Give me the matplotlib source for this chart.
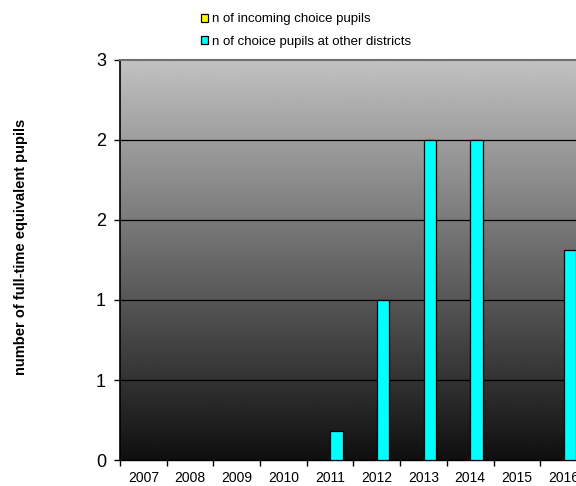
import numpy as np
import matplotlib
matplotlib.use("Agg")
import matplotlib.pyplot as plt
from matplotlib.patches import Patch

# ── DATA ─────────────────────────────────────────────────────────────────────
years = ["2007", "2008", "2009", "2010", "2011", "2012", "2013", "2014", "2015", "2016"]
incoming = [0, 0, 0, 0, 0, 0, 0, 0, 0, 0]
other_districts = [0, 0, 0, 0, 0.18, 1.0, 2.0, 2.0, 0, 1.31]
y_ticks = [0, 0.5, 1.0, 1.5, 2.0, 2.5]
y_tick_labels = ["0", "1", "1", "2", "2", "3"]   # Excel rounded them to integers

COLOR_IN = "#FFFF00"
COLOR_OUT = "#00FFFF"

plt.rcParams["font.family"] = ["Liberation Sans", "DejaVu Sans"]

fig = plt.figure(figsize=(5.76, 4.86), dpi=100, facecolor="white")
# plot area runs off the right edge, like the cropped original
ax = fig.add_axes([120 / 576, 26 / 486, 467 / 576, 400 / 486])

# gray-to-black gradient background
grad = np.linspace(0.06, 0.76, 256).reshape(-1, 1)
ax.imshow(grad, cmap="gray", vmin=0, vmax=1, origin="lower", aspect="auto",
          extent=[0, 1, 0, 1], transform=ax.transAxes, zorder=0)

x = np.arange(len(years))
w = 0.27
ax.bar(x - w / 2, incoming, width=w, color=COLOR_IN, edgecolor="black", linewidth=0, zorder=3)
ax.bar(x + w / 2, other_districts, width=w, color=COLOR_OUT, edgecolor="black", linewidth=0.9, zorder=3)

ax.set_xlim(-0.5, len(years) - 0.5)
ax.set_ylim(0, 2.5)

# gridlines
for yv in y_ticks[1:-1]:
    ax.axhline(yv, color="black", linewidth=0.9, zorder=1)

ax.set_yticks(y_ticks)
ax.set_yticklabels(y_tick_labels, fontsize=13)
ax.tick_params(axis="y", direction="out", length=4, width=1, pad=6)

ax.set_xticks(x)
ax.set_xticklabels(years, fontsize=10)
ax.tick_params(axis="x", which="major", length=0, pad=8)
ax.set_xticks(np.arange(-0.5, len(years), 1.0), minor=True)
ax.tick_params(axis="x", which="minor", direction="out", length=4, width=1)

ax.spines["top"].set_color("#707070")
ax.spines["top"].set_linewidth(1.5)
ax.spines["right"].set_visible(False)
ax.spines["left"].set_linewidth(1.2)
ax.spines["bottom"].set_linewidth(1.0)

fig.text(21 / 576, 0.492, "number of full-time equivalent pupils", rotation=90,
         ha="center", va="center", fontsize=10.5, fontweight="bold")

handles = [Patch(facecolor=COLOR_IN, edgecolor="black", linewidth=0.9, label="n of incoming choice pupils"),
           Patch(facecolor=COLOR_OUT, edgecolor="black", linewidth=0.9, label="n of choice pupils at other districts")]
fig.legend(handles=handles, loc="upper left", bbox_to_anchor=(192 / 576, 1 - 4 / 486),
           frameon=False, fontsize=9.5, handlelength=0.55, handleheight=0.55,
           handletextpad=0.3, labelspacing=0.8, borderpad=0.2)

fig.savefig("out.png", dpi=100, facecolor="white")
